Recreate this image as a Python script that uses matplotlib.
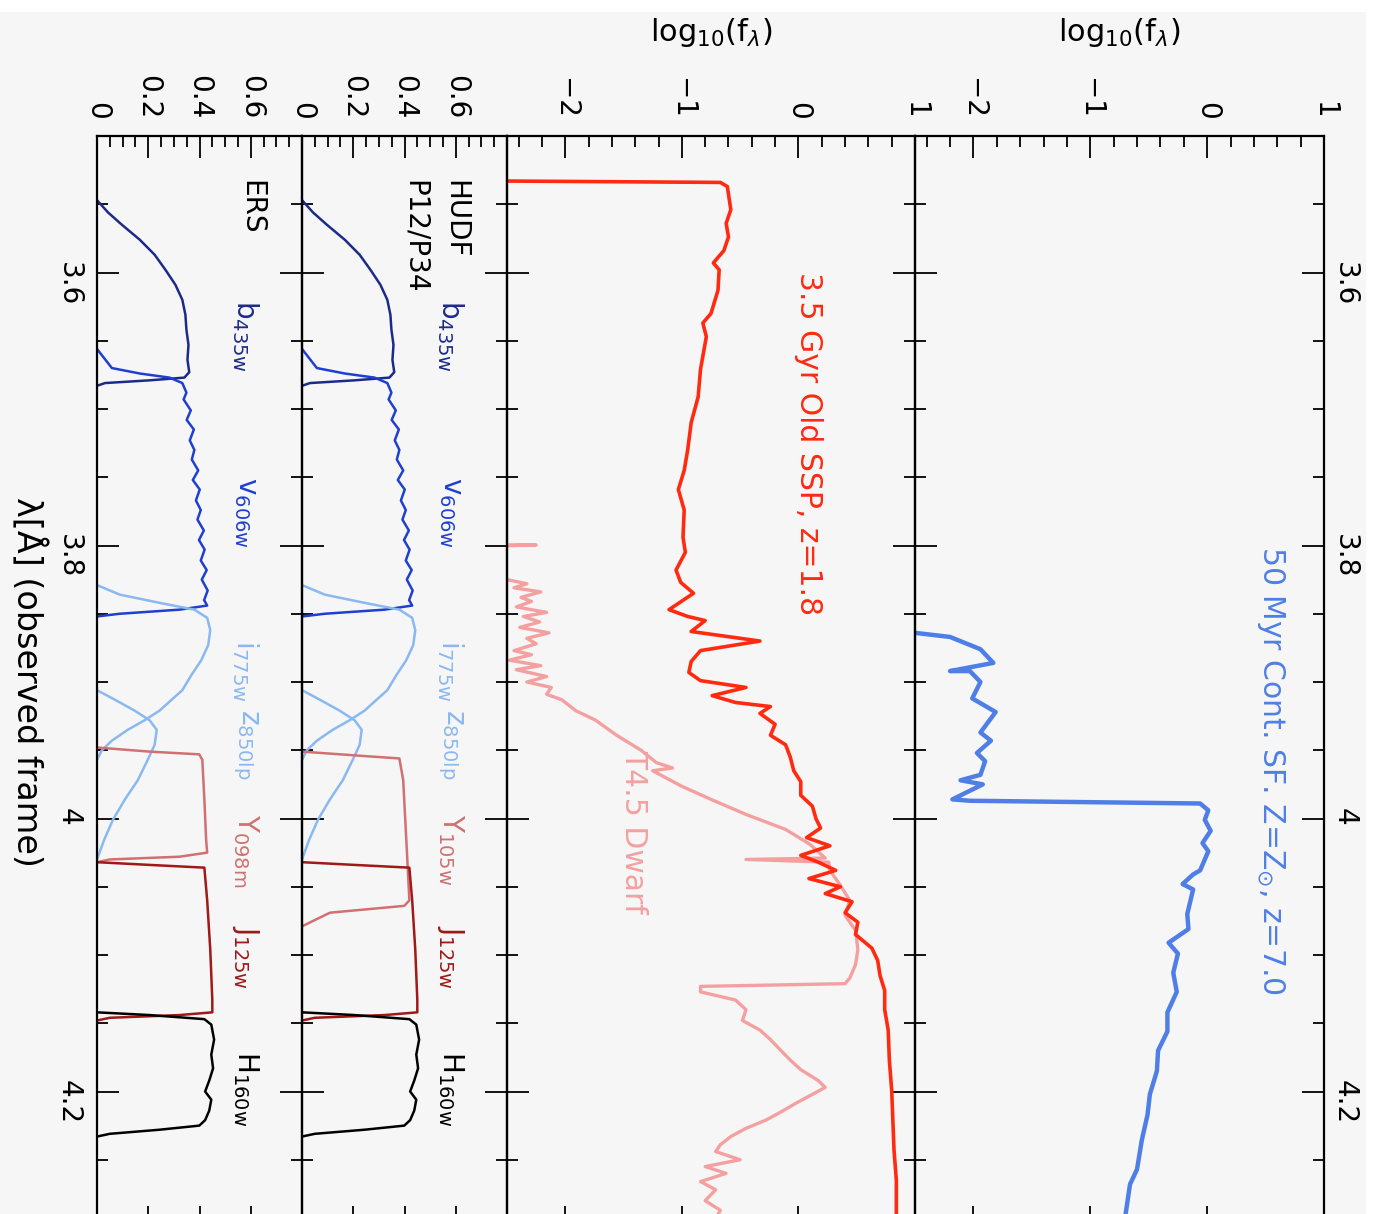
import matplotlib.pyplot as plt
from matplotlib.patches import Rectangle
from matplotlib.ticker import MultipleLocator

# ---- data (log10 lambda vs value) ----
# 50 Myr constant SF, z=7
sf_lam = [3.864, 3.867, 3.876, 3.886, 3.892, 3.892, 3.900, 3.912, 3.922, 3.937, 3.943,
          3.952, 3.958, 3.968, 3.972, 3.975, 3.986, 3.987, 3.989, 3.994, 4.001, 4.009,
          4.018, 4.024, 4.038, 4.041, 4.048, 4.052, 4.070, 4.081, 4.091, 4.099, 4.113,
          4.127, 4.142, 4.156, 4.170, 4.185, 4.202, 4.217, 4.236, 4.257, 4.268, 4.291, 4.300]
sf_flux = [-2.50, -2.20, -1.94, -1.83, -2.20, -2.03, -1.94, -2.01, -1.81, -1.94, -1.85,
           -1.97, -1.90, -1.94, -2.11, -1.92, -2.18, -2.03, -0.06, 0.01, -0.02, 0.03,
           -0.04, 0.01, -0.06, -0.12, -0.21, -0.12, -0.17, -0.16, -0.33, -0.25, -0.29,
           -0.26, -0.34, -0.34, -0.42, -0.43, -0.49, -0.51, -0.56, -0.60, -0.66, -0.70, -0.73]

# 3.5 Gyr old SSP, z=1.8
ssp_lam = [3.533, 3.534, 3.537, 3.554, 3.564, 3.574, 3.584, 3.593, 3.598, 3.613, 3.630,
           3.637, 3.647, 3.671, 3.691, 3.710, 3.730, 3.745, 3.759, 3.774, 3.794, 3.805,
           3.818, 3.827, 3.835, 3.847, 3.852, 3.855, 3.863, 3.870, 3.877, 3.885, 3.893,
           3.899, 3.904, 3.910, 3.915, 3.918, 3.923, 3.931, 3.939, 3.946, 3.955, 3.965,
           3.973, 3.983, 3.991, 4.000, 4.007, 4.014, 4.020, 4.027, 4.032, 4.038, 4.044,
           4.050, 4.055, 4.061, 4.069, 4.076, 4.085, 4.095, 4.104, 4.115, 4.126, 4.140,
           4.155, 4.177, 4.199, 4.221, 4.243, 4.265, 4.290, 4.300]
ssp_flux = [-2.50, -0.67, -0.61, -0.58, -0.62, -0.60, -0.64, -0.73, -0.68, -0.69, -0.75,
            -0.82, -0.79, -0.84, -0.86, -0.92, -0.95, -0.98, -1.03, -0.98, -0.99, -0.97,
            -1.05, -1.01, -0.90, -1.11, -0.95, -0.80, -0.92, -0.33, -0.84, -0.92, -0.94,
            -0.84, -0.45, -0.74, -0.54, -0.24, -0.33, -0.20, -0.24, -0.11, -0.07, -0.04,
            0.02, 0.02, 0.12, 0.15, 0.19, 0.07, 0.27, 0.02, 0.17, 0.32, 0.09,
            0.36, 0.23, 0.46, 0.40, 0.51, 0.49, 0.63, 0.68, 0.70, 0.74, 0.74,
            0.77, 0.78, 0.80, 0.81, 0.82, 0.84, 0.84, 0.85]

# T4.5 dwarf
dw_lam = [3.7996, 3.7996, 3.8004, 3.825, 3.828, 3.831, 3.834, 3.838, 3.841, 3.845, 3.849,
          3.852, 3.856, 3.860, 3.864, 3.868, 3.872, 3.877, 3.880, 3.884, 3.888, 3.891,
          3.896, 3.900, 3.904, 3.909, 3.913, 3.921, 3.928, 3.939, 3.950, 3.959, 3.963,
          3.965, 3.976, 3.986, 3.997, 4.008, 4.019, 4.029, 4.030, 4.032, 4.038, 4.049,
          4.060, 4.071, 4.082, 4.096, 4.107, 4.117, 4.121, 4.123, 4.127, 4.133, 4.140,
          4.148, 4.155, 4.162, 4.170, 4.177, 4.184, 4.192, 4.197, 4.203, 4.209, 4.215,
          4.221, 4.227, 4.233, 4.239, 4.244, 4.250, 4.255, 4.260, 4.266, 4.272, 4.280,
          4.287, 4.300]
dw_flux = [-2.60, -2.25, -2.60, -2.50, -2.33, -2.44, -2.21, -2.38, -2.29, -2.42, -2.16,
           -2.36, -2.22, -2.39, -2.14, -2.33, -2.25, -2.44, -2.29, -2.48, -2.21, -2.42,
           -2.16, -2.33, -2.12, -2.16, -2.03, -1.91, -1.74, -1.56, -1.35, -1.22, -1.08,
           -1.25, -1.01, -0.75, -0.45, -0.11, 0.10, 0.23, -0.45, 0.26, 0.27, 0.36,
           0.44, 0.40, 0.49, 0.51, 0.49, 0.44, 0.40, -0.84, -0.84, -0.54, -0.45,
           -0.48, -0.33, -0.24, -0.15, -0.07, 0.02, 0.17, 0.23, 0.10, -0.03, -0.15,
           -0.28, -0.45, -0.58, -0.67, -0.71, -0.50, -0.80, -0.62, -0.84, -0.71, -0.80,
           -0.67, -0.75]

# filter transmission curves (ACS / WFC3)
b_lam = [3.547, 3.556, 3.565, 3.576, 3.587, 3.598, 3.609, 3.620, 3.631, 3.642, 3.653,
         3.664, 3.673, 3.677, 3.679, 3.681, 3.683]
b_thr = [0.0, 0.043, 0.097, 0.167, 0.225, 0.267, 0.306, 0.333, 0.345, 0.349, 0.357,
         0.353, 0.360, 0.341, 0.205, 0.031, 0.0]
v_lam = [3.656, 3.670, 3.674, 3.677, 3.681, 3.688, 3.693, 3.701, 3.708, 3.715, 3.723,
         3.730, 3.737, 3.745, 3.752, 3.759, 3.767, 3.774, 3.781, 3.789, 3.796, 3.803,
         3.811, 3.818, 3.825, 3.833, 3.840, 3.844, 3.847, 3.850, 3.852]
v_thr = [0.0, 0.058, 0.167, 0.283, 0.333, 0.349, 0.338, 0.366, 0.350, 0.378, 0.362,
         0.380, 0.370, 0.395, 0.374, 0.401, 0.386, 0.405, 0.392, 0.417, 0.398, 0.420,
         0.405, 0.428, 0.409, 0.432, 0.418, 0.430, 0.322, 0.089, 0.0]
i_lam = [3.829, 3.836, 3.842, 3.847, 3.853, 3.862, 3.873, 3.884, 3.895, 3.906, 3.913,
         3.921, 3.928, 3.935, 3.943, 3.950, 3.957]
i_thr = [0.0, 0.089, 0.244, 0.380, 0.430, 0.442, 0.434, 0.407, 0.368, 0.333, 0.291,
         0.244, 0.186, 0.120, 0.058, 0.019, 0.0]
z_lam = [3.906, 3.913, 3.921, 3.928, 3.935, 3.946, 3.957, 3.972, 3.986, 4.001, 4.016, 4.030]
z_thr = [0.0, 0.070, 0.147, 0.205, 0.233, 0.225, 0.198, 0.159, 0.109, 0.062, 0.027, 0.0]
y098_lam = [3.948, 3.951, 3.953, 3.957, 3.986, 4.016, 4.025, 4.028, 4.030, 4.032]
y098_thr = [0.0, 0.205, 0.399, 0.411, 0.419, 0.426, 0.430, 0.322, 0.050, 0.0]
y105_lam = [3.951, 3.954, 3.956, 3.972, 4.001, 4.030, 4.060, 4.064, 4.069, 4.079]
y105_thr = [0.0, 0.225, 0.380, 0.395, 0.403, 0.411, 0.419, 0.399, 0.109, 0.0]
j_lam = [4.032, 4.034, 4.036, 4.060, 4.096, 4.133, 4.142, 4.144, 4.146, 4.148]
j_thr = [0.0, 0.205, 0.419, 0.430, 0.442, 0.450, 0.450, 0.322, 0.050, 0.0]
h_lam = [4.142, 4.144, 4.147, 4.151, 4.162, 4.173, 4.183, 4.192, 4.200, 4.206, 4.214,
         4.221, 4.225, 4.228, 4.231, 4.233]
h_thr = [0.0, 0.205, 0.419, 0.446, 0.457, 0.446, 0.453, 0.438, 0.422, 0.446, 0.438,
         0.422, 0.399, 0.244, 0.050, 0.0]

filt_names = [r'b$_{\rm 435w}$', r'v$_{\rm 606w}$', r'i$_{\rm 775w}$', r'z$_{\rm 850lp}$',
              None, r'J$_{\rm 125w}$', r'H$_{\rm 160w}$']
filt_label_lam = [3.620, 3.750, 3.869, 3.920, 3.997, 4.078, 4.170]

C_SF = '#4f7fe6'
C_SSP = '#ff2a10'
C_DW = '#f4a0a0'
C_B = '#1c2a8a'
C_V = '#1f3fd0'
C_IZ = '#8ab8f0'
C_Y = '#d07070'
C_J = '#a01818'
C_H = 'black'

plt.rcParams['font.family'] = ['DejaVu Sans']
plt.rcParams['font.size'] = 20

W, H = 1375, 1214
fig = plt.figure(figsize=(W / 100, H / 100), dpi=100, facecolor='white')
fig.patches.append(Rectangle((0, 0), 1366 / W, 1 - 12 / H, transform=fig.transFigure,
                             facecolor='#f6f6f6', edgecolor='none', zorder=-10))

TOP, BOT = 136, 1228


def make_axes(x0, x1):
    ax = fig.add_axes([x0 / W, 1 - BOT / H, (x1 - x0) / W, (BOT - TOP) / H])
    ax.set_facecolor('none')
    ax.set_ylim(4.3, 3.5)
    for s in ax.spines.values():
        s.set_linewidth(1.6)
    ax.yaxis.set_major_locator(MultipleLocator(0.2))
    ax.yaxis.set_minor_locator(MultipleLocator(0.05))
    ax.tick_params(which='both', direction='in', top=True, bottom=True, left=True, right=True,
                   labeltop=True, labelbottom=False, labelleft=False, labelright=False,
                   width=1.3, labelrotation=-90, labelsize=20)
    ax.tick_params(which='major', length=16)
    ax.tick_params(which='minor', length=8)
    ax.tick_params(axis='x', which='major', pad=12)
    return ax


def flux_axes(x0, x1):
    ax = make_axes(x0, x1)
    ax.set_xlim(-2.5, 1)
    ax.set_xticks([-2, -1, 0, 1])
    ax.set_xticklabels(['\u22122', '\u22121', '0', '1'])
    ax.xaxis.set_minor_locator(MultipleLocator(0.2))
    ax.xaxis.set_label_position('top')
    ax.set_xlabel(r'log$_{10}$(f$_\lambda$)', labelpad=27, fontsize=22)
    return ax


def filt_axes(x0, x1):
    ax = make_axes(x0, x1)
    ax.set_xlim(0, 0.8)
    ax.set_xticks([0, 0.2, 0.4, 0.6])
    ax.set_xticklabels(['0', '0.2', '0.4', '0.6'])
    ax.xaxis.set_minor_locator(MultipleLocator(0.05))
    return ax


ax_sf = flux_axes(915, 1324)
ax_ssp = flux_axes(507, 915)
ax_hudf = filt_axes(302, 507)
ax_ers = filt_axes(97, 302)

# top panel
ax_sf.plot(sf_flux, sf_lam, color=C_SF, lw=3.2)
ax_sf.tick_params(axis='y', labelright=True, pad=5)
ax_sf.set_yticks([3.6, 3.8, 4.0, 4.2])
ax_sf.set_yticklabels(['3.6', '3.8', '4', '4.2'])
ax_sf.text(0.55, 3.80, r'50 Myr Cont. SF. Z=Z$_{\odot}$, z=7.0', color=C_SF,
           rotation=-90, ha='center', va='top', fontsize=21.5)

# middle panel
ax_ssp.plot(dw_flux, dw_lam, color=C_DW, lw=2.4)
ax_ssp.plot(ssp_flux, ssp_lam, color=C_SSP, lw=2.6)
ax_ssp.text(0.09, 3.6, '3.5 Gyr Old SSP, z=1.8', color=C_SSP,
            rotation=-90, ha='center', va='top', fontsize=21.5)
ax_ssp.text(-1.41, 3.95, 'T4.5 Dwarf', color=C_DW,
            rotation=-90, ha='center', va='top', fontsize=21.5)

# filter panels
for ax, y_lam, y_thr, y_name, field in [
        (ax_hudf, y105_lam, y105_thr, r'Y$_{\rm 105w}$', ['HUDF', 'P12/P34']),
        (ax_ers, y098_lam, y098_thr, r'Y$_{\rm 098m}$', ['ERS'])]:
    ax.plot(b_thr, b_lam, color=C_B, lw=1.8)
    ax.plot(v_thr, v_lam, color=C_V, lw=1.8)
    ax.plot(i_thr, i_lam, color=C_IZ, lw=1.8)
    ax.plot(z_thr, z_lam, color=C_IZ, lw=1.8)
    ax.plot(y_thr, y_lam, color=C_Y, lw=1.8)
    ax.plot(j_thr, j_lam, color=C_J, lw=1.8)
    ax.plot(h_thr, h_lam, color=C_H, lw=1.8)
    cols = [C_B, C_V, C_IZ, C_IZ, C_Y, C_J, C_H]
    for name, lam, col in zip(filt_names, filt_label_lam, cols):
        ax.text(0.58, lam, name if name else y_name, color=col, rotation=-90,
                ha='center', va='top', fontsize=20)
    for k, t in enumerate(field):
        ax.text(0.6 - 0.16 * k, 3.532, t, color='black', rotation=-90,
                ha='center', va='top', fontsize=20)

ax_ers.tick_params(axis='y', labelleft=True, pad=10.5)
ax_ers.set_yticks([3.6, 3.8, 4.0, 4.2])
ax_ers.set_yticklabels(['3.6', '3.8', '4', '4.2'])
ax_ers.set_ylabel('\u03bb[\u00c5] (observed frame)', rotation=-90, labelpad=32, fontsize=24)

fig.savefig('out.png', dpi=100, facecolor=fig.get_facecolor())
